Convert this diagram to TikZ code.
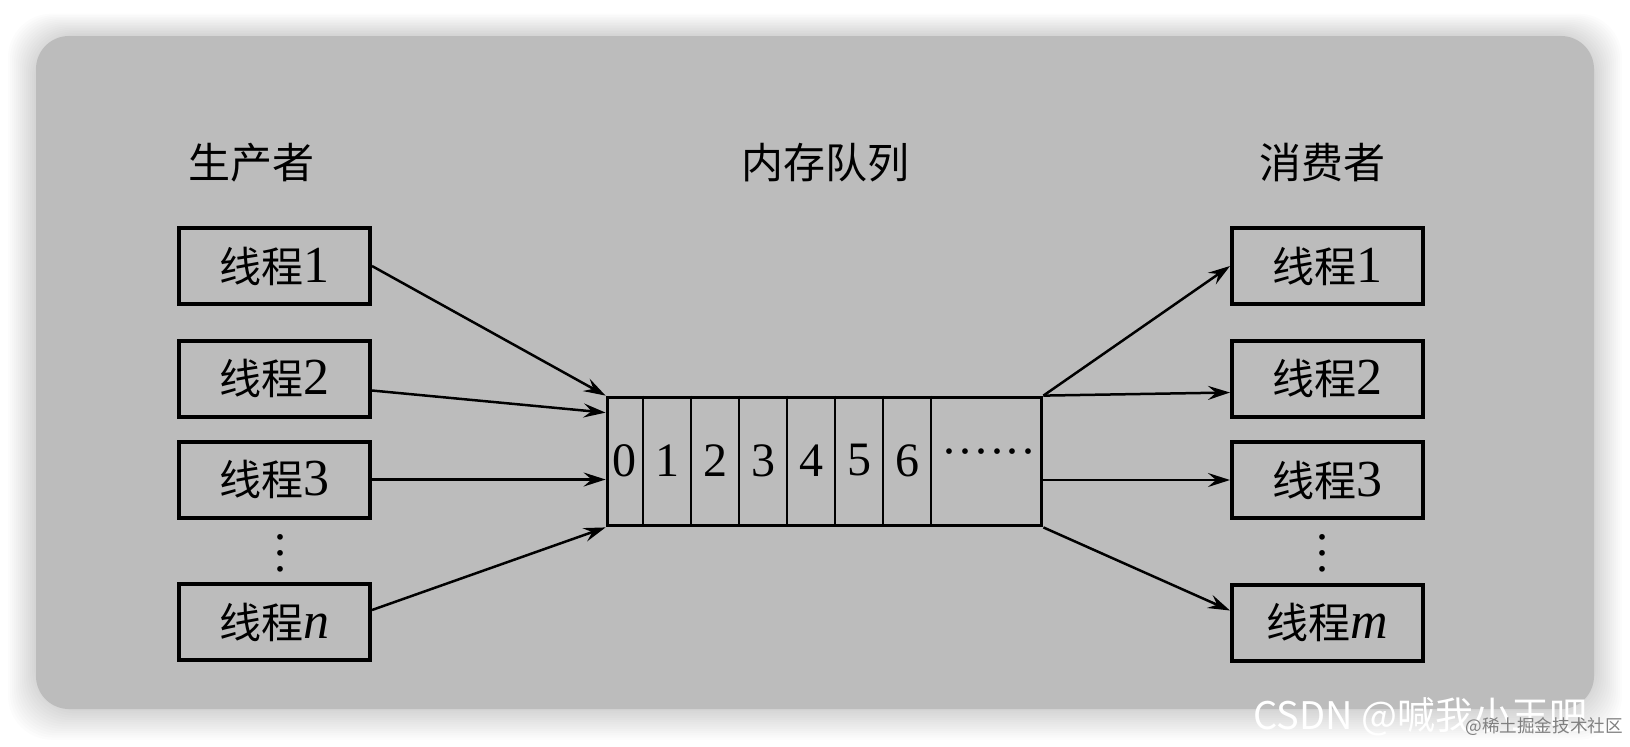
\documentclass[tikz,border=0pt]{standalone}
\usepackage{fontspec}
\setmainfont{Liberation Serif}
\newfontfamily\cjk{Noto Sans CJK SC}
\usepackage{xcolor}
\usepackage{tikz}
\usetikzlibrary{arrows.meta,positioning}
\definecolor{panelgray}{HTML}{BCBCBC}
\newcommand{\thread}[1]{{\cjk\fontsize{21}{24}\selectfont 线程}{\fontsize{26}{28}\selectfont #1}}
\newcommand{\threaddots}{\vbox{\baselineskip8pt\lineskiplimit0pt\hbox{.}\hbox{.}\hbox{.}}}
\newcommand{\moredots}{······}

\begin{document}
\begin{tikzpicture}[x=0.5pt,y=-0.5pt,
    title/.style={font=\cjk\fontsize{21}{24}\selectfont, inner sep=0pt},
    thread/.style={draw, line width=2pt, minimum width=95.5pt, minimum height=38pt, inner sep=0pt},
    queuebox/.style={draw, line width=1.9pt, minimum width=217pt, minimum height=64pt, inner sep=0pt},
    cellline/.style={line width=0.9pt},
    digit/.style={font=\fontsize{24}{26}\selectfont, inner sep=0pt},
    flow/.style={line width=1.25pt, -{Stealth[length=11pt,width=7pt,inset=4pt]}},
    vdot/.style={font=\fontsize{24}{26}\selectfont, inner sep=0pt}]
    \useasboundingbox (0,0) rectangle (1630,746);
    \fill[white] (0,0) rectangle (1630,746);
    \foreach \s in {1,...,14}
        \fill[black, opacity=0.011, rounded corners=22pt] ({36-2*\s},{36-1.6*\s}) rectangle ({1594+2*\s},{709+2.2*\s});
    \fill[panelgray, rounded corners=16.5pt] (36,36) rectangle (1594,709);

    \node[title] (ptitle) at (251,163) {生产者};
    \node[title] (qtitle) at (825,163) {内存队列};
    \node[title] (ctitle) at (1322,163) {消费者};

    \node[thread] (p1) at (274.5,266) {\thread{1}};
    \node[thread] (p2) at (274.5,378.5) {\thread{2}};
    \node[thread] (p3) at (274.5,479.5) {\thread{3}};
    \node[vdot] (pdots) at (280,553) {\threaddots};
    \node[thread] (pn) at (274.5,622) {\thread{\textit{n}}};

    \node[thread] (c1) at (1327.5,266) {\thread{1}};
    \node[thread] (c2) at (1327.5,378.5) {\thread{2}};
    \node[thread] (c3) at (1327.5,480) {\thread{3}};
    \node[vdot] (cdots) at (1322,553) {\threaddots};
    \node[thread] (cm) at (1327.5,622.5) {\thread{\textit{m}}};

    \node[queuebox] (queue) at (824.5,461.5) {};
    \foreach \x in {643,691,739,787,835,883,931}
        \draw[cellline] (\x,0 |- queue.north) -- (\x,0 |- queue.south);
    \foreach \d/\x in {0/624.5,1/667,2/715,3/763,4/811,5/859,6/907}
        \node[digit] (cell\d) at (\x,460.5) {\d};
    \node[digit] (cellmore) at (989,458) {\moredots};

    \draw[flow] (p1.east) -- (queue.north west);
    \draw[flow] ([yshift=-6pt]p2.east) -- ([yshift=-8.5pt]queue.north west);
    \draw[flow] (p3.east) -- (p3.east -| queue.west);
    \draw[flow] ([yshift=6pt]pn.east) -- (queue.south west);

    \draw[flow] (queue.north east) -- (c1.west);
    \draw[flow] (queue.north east) -- ([yshift=-7pt]c2.west);
    \draw[flow] (queue.east |- c3.west) -- (c3.west);
    \draw[flow] (queue.south east) -- ([yshift=6pt]cm.west);

    \node[anchor=base west, text=white, font=\cjk\fontsize{19}{20}\selectfont, inner sep=0pt] (csdn) at (1253,729) {CSDN @喊我小王吧};
    \node[anchor=west, text=black!50, font=\cjk\fontsize{8.8}{10}\selectfont, inner sep=0pt] (juejin) at (1465,727) {@稀土掘金技术社区};
\end{tikzpicture}
\end{document}
